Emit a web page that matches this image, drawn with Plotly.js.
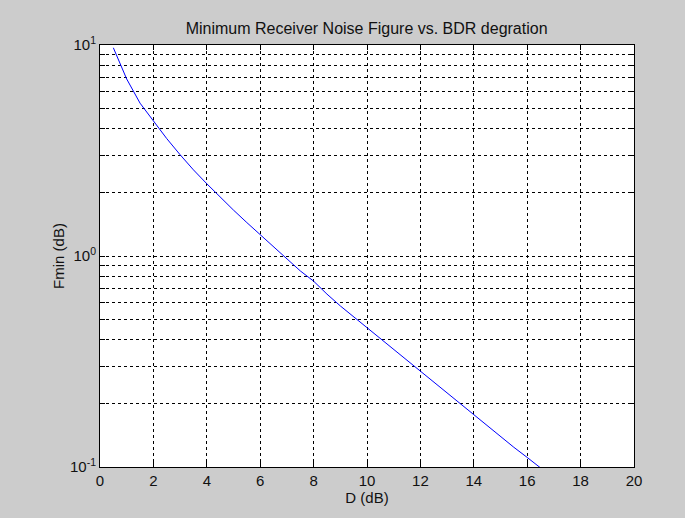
<!DOCTYPE html>
<html>
<head>
<meta charset="utf-8">
<script src="https://cdn.plot.ly/plotly-3.0.1.min.js"></script>
<style>
  html, body { margin: 0; padding: 0; background: #cccccc; }
  #chart { width: 685px; height: 518px; }
</style>
</head>
<body>
<div id="chart"></div>
<script>
// Degradation D (dB)
const dValues = [0.5, 1, 1.5, 2, 2.5, 3, 3.5, 4, 4.5, 5, 5.5, 6, 6.5, 7, 7.5, 8, 8.5, 9, 9.5, 10,
                 10.5, 11, 11.5, 12, 12.5, 13, 13.5, 14, 14.5, 15, 15.5, 16, 16.5];
// Minimum receiver noise figure Fmin (dB)
const fminValues = [9.7, 6.9, 5.3, 4.35, 3.6, 3.02, 2.56, 2.2, 1.9, 1.65, 1.44, 1.26, 1.1, 0.97, 0.85, 0.76, 0.66, 0.58, 0.515, 0.46,
                    0.405, 0.36, 0.32, 0.285, 0.253, 0.224, 0.2, 0.177, 0.157, 0.14, 0.124, 0.111, 0.099];

const xTickVals = [0, 2, 4, 6, 8, 10, 12, 14, 16, 18, 20];
const yTickVals = [0.1, 0.2, 0.3, 0.4, 0.5, 0.6, 0.7, 0.8, 0.9, 1, 2, 3, 4, 5, 6, 7, 8, 9, 10];
const yTickText = ['10<sup>-1</sup>', '', '', '', '', '', '', '', '', '10<sup>0</sup>', '', '', '', '', '', '', '', '', '10<sup>1</sup>'];

const font = 'Liberation Sans, Arial, sans-serif';

const trace = {
  x: dValues,
  y: fminValues,
  type: 'scatter',
  mode: 'lines',
  line: { color: '#0000ff', width: 1 },
  hoverinfo: 'skip'
};

const layout = {
  width: 685,
  height: 518,
  paper_bgcolor: '#cccccc',
  plot_bgcolor: '#ffffff',
  margin: { l: 100, r: 51, t: 45, b: 51 },
  showlegend: false,
  font: { family: font, size: 14, color: '#000000' },
  title: {
    text: 'Minimum Receiver Noise Figure vs. BDR degration',
    font: { family: font, size: 16, color: '#111111' },
    x: 0.5352, xanchor: 'center',
    y: 1 - 28 / 518, yanchor: 'middle'
  },
  xaxis: {
    range: [0, 20],
    tickmode: 'array',
    tickvals: xTickVals,
    ticktext: xTickVals.map(String),
    ticks: 'inside',
    ticklen: 5,
    tickcolor: '#000000',
    showline: true,
    linecolor: '#000000',
    linewidth: 1,
    mirror: 'ticks',
    showgrid: true,
    gridcolor: '#000000',
    gridwidth: 1,
    griddash: '3px,3px',
    zeroline: false,
    tickfont: { family: font, size: 15, color: '#111111' },
    title: { text: 'D (dB)', font: { family: font, size: 15, color: '#111111' }, standoff: 4 }
  },
  yaxis: {
    type: 'log',
    range: [-1, 1],
    tickmode: 'array',
    tickvals: yTickVals,
    ticktext: yTickText,
    ticks: 'inside',
    ticklen: 5,
    tickcolor: '#000000',
    showline: true,
    linecolor: '#000000',
    linewidth: 1,
    mirror: 'ticks',
    showgrid: true,
    gridcolor: '#000000',
    gridwidth: 1,
    griddash: '3px,3px',
    zeroline: false,
    tickfont: { family: font, size: 15, color: '#111111' },
    title: { text: 'Fmin (dB)', font: { family: font, size: 15, color: '#111111' }, standoff: 1 }
  }
};

Plotly.newPlot('chart', [trace], layout, { staticPlot: true, displayModeBar: false });
</script>
</body>
</html>
